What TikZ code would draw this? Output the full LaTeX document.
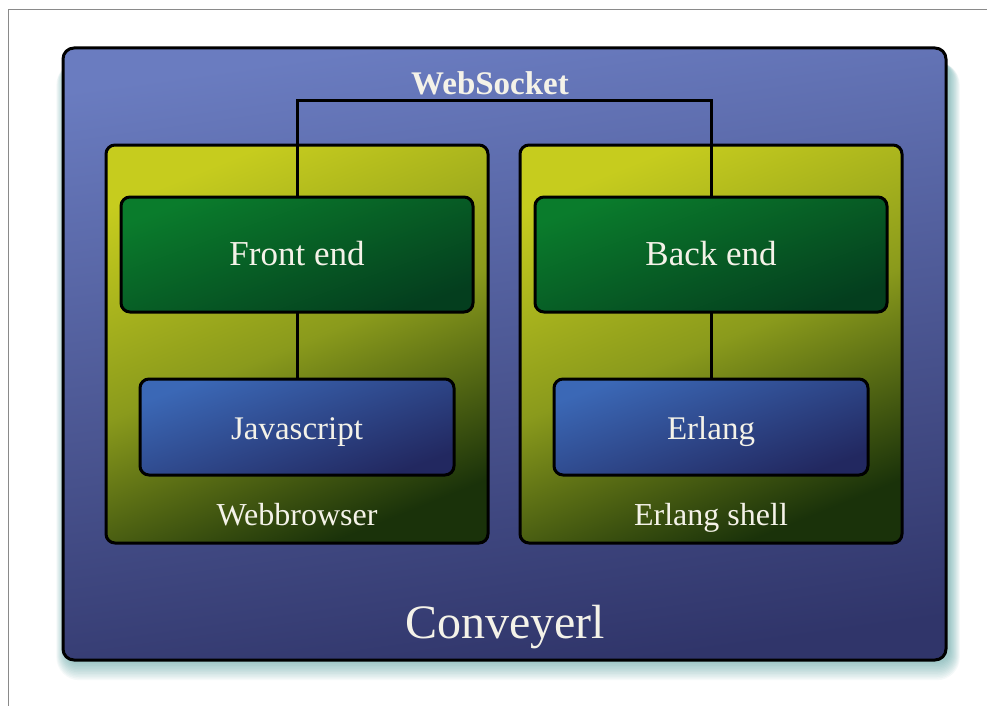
\documentclass[tikz,border=0pt]{standalone}
\usepackage{fontspec}
\setmainfont{Liberation Serif}
\definecolor{outerTop}{HTML}{6A7CC0}
\definecolor{outerBot}{HTML}{30356A}
\definecolor{yelTop}{HTML}{C6CC1E}
\definecolor{yelMid}{HTML}{8A9A1C}
\definecolor{yelBot}{HTML}{1A320A}
\definecolor{grnTop}{HTML}{0A7C2C}
\definecolor{grnBot}{HTML}{043E1E}
\definecolor{bluTop}{HTML}{3B68B6}
\definecolor{bluBot}{HTML}{222860}
\definecolor{shadowc}{HTML}{3E9494}
\definecolor{txt}{HTML}{F4F2E8}
\definecolor{frame}{HTML}{8A8A8A}
\begin{document}
\begin{tikzpicture}[x=1pt,y=-1pt,
  box/.style={rectangle, draw=black, line width=3pt, inner sep=0pt, outer sep=0pt},
  outerbox/.style={box, rounded corners=11pt, top color=outerTop, bottom color=outerBot, shading angle=8},
  envbox/.style={box, rounded corners=9pt, top color=yelTop, bottom color=yelBot, middle color=yelMid, shading angle=22},
  endbox/.style={box, rounded corners=9pt, top color=grnTop, bottom color=grnBot, shading angle=20},
  langbox/.style={box, rounded corners=9pt, top color=bluTop, bottom color=bluBot, shading angle=20},
  lbl/.style={text=txt, anchor=base, inner sep=0pt},
  conn/.style={draw=black, line width=3pt}
]
\useasboundingbox (0,0) rectangle (987,706);
\fill[white] (0,0) rectangle (987,706);
\draw[frame, line width=1.2pt] (8.5,706) -- (8.5,9.5) -- (987,9.5);
% shadow of outer box
\foreach \i in {1,...,12}{
  \fill[shadowc, opacity=0.05, rounded corners=11+\i] (66-0.8*\i,62) rectangle (949+0.9*\i,661+1.6*\i);
}
\node[outerbox, minimum width=883pt, minimum height=612pt] (conv) at (504.5,354) {};
\node[envbox, minimum width=382pt, minimum height=398pt] (wb) at (297,344) {};
\node[envbox, minimum width=382pt, minimum height=398pt] (es) at (711,344) {};
\coordinate (wsl) at (297,101);
\node[endbox, minimum width=352pt, minimum height=115pt] (fe) at (297,254.5) {};
\node[endbox, minimum width=352pt, minimum height=115pt] (be) at (711,254.5) {};
\draw[conn] (fe.north) -- (wsl) -| (be.north);
\node[langbox, minimum width=314pt, minimum height=96pt] (js) at (297,427) {};
\node[langbox, minimum width=314pt, minimum height=96pt] (er) at (711,427) {};
\draw[conn] (fe.south) -- (js.north);
\draw[conn] (be.south) -- (er.north);
% labels
\node[lbl, font=\fontsize{33}{36}\selectfont\bfseries] (wst) at (490,95) {WebSocket};
\node[lbl, font=\fontsize{35}{40}\selectfont] (fet) at (297,265) {Front end};
\node[lbl, font=\fontsize{35}{40}\selectfont] (bet) at (711,265) {Back end};
\node[lbl, font=\fontsize{33}{38}\selectfont] (jst) at (297,439) {Javascript};
\node[lbl, font=\fontsize{33}{38}\selectfont] (ert) at (711,439) {Erlang};
\node[lbl, font=\fontsize{32}{36}\selectfont] (wbt) at (297,525) {Webbrowser};
\node[lbl, font=\fontsize{32}{36}\selectfont] (est) at (711,525) {Erlang shell};
\node[lbl, font=\fontsize{48}{52}\selectfont] (cvt) at (505,638) {Conveyerl};
\end{tikzpicture}
\end{document}
